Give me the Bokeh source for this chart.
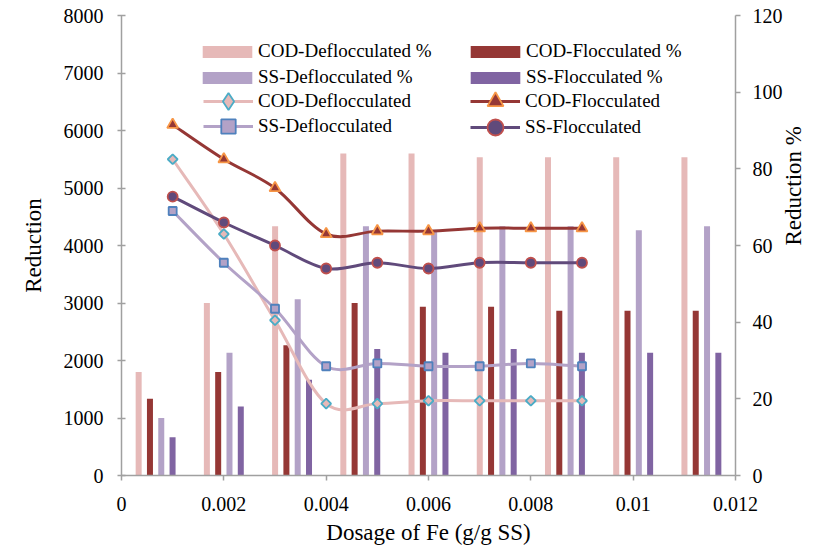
import numpy as np
from bokeh.plotting import figure
from bokeh.models import (Range1d, LinearAxis, FixedTicker, Legend, LegendItem,
                          ColumnDataSource, Title)
from bokeh.embed import file_html
from bokeh.resources import INLINE

# ---------------- data ----------------
dosage = [0.001, 0.002, 0.003, 0.004, 0.005, 0.006, 0.007, 0.008, 0.009]
cod_defloc = [5500, 4200, 2700, 1250, 1250, 1300, 1300, 1300, 1300]
ss_defloc = [4600, 3700, 2900, 1900, 1950, 1900, 1900, 1950, 1900]
cod_floc = [6100, 5500, 5000, 4200, 4250, 4250, 4300, 4300, 4300]
ss_floc = [4850, 4400, 4000, 3600, 3700, 3600, 3700, 3700, 3700]

groups = [1, 2, 3, 4, 5, 6, 7, 8, 9]
cod_defloc_pct = [27, 45, 65, 84, 84, 83, 83, 83, 83]
cod_floc_pct = [20, 27, 34, 45, 44, 44, 43, 43, 43]
ss_defloc_pct = [15, 32, 46, 65, 64, 65, 65, 64, 65]
ss_floc_pct = [10, 18, 25, 33, 32, 33, 32, 32, 32]

x_ticks = [0, 0.002, 0.004, 0.006, 0.008, 0.01, 0.012]
x_tick_labels = ["0", "0.002", "0.004", "0.006", "0.008", "0.01", "0.012"]
left_ticks = [0, 1000, 2000, 3000, 4000, 5000, 6000, 7000, 8000]
right_ticks = [0, 20, 40, 60, 80, 100, 120]

# ---------------- styles ----------------
FONT = "Liberation Serif"
C_COD_DEF = "#E6B9B8"
C_COD_FLOC = "#953735"
C_SS_DEF = "#B3A2C7"
C_SS_FLOC = "#8064A2"
C_SS_FLOC_LINE = "#604A7B"
AXIS_C = "#A0A0A0"

XMAX = 0.012
p = figure(width=821, height=552, output_backend="svg", toolbar_location=None,
           x_range=Range1d(0, XMAX), y_range=Range1d(0, 8000),
           min_border_left=121, min_border_right=86, min_border_top=15,
           min_border_bottom=77)
p.extra_y_ranges = {"pct": Range1d(0, 120), "swatch": Range1d(-2, -1)}
p.outline_line_color = None
p.xgrid.visible = False
p.ygrid.visible = False
p.background_fill_color = "white"
p.border_fill_color = "white"

# ---------------- bars (secondary axis) ----------------
n = len(groups)
cat_w = XMAX / n
centers = (np.array(groups) - 0.5) * cat_w
slot = cat_w * 0.1657
bar_w = cat_w * 0.088
bar_series = [
    ("COD-Deflocculated %", cod_defloc_pct, C_COD_DEF, -1.5),
    ("COD-Flocculated %", cod_floc_pct, C_COD_FLOC, -0.5),
    ("SS-Deflocculated %", ss_defloc_pct, C_SS_DEF, 0.5),
    ("SS-Flocculated %", ss_floc_pct, C_SS_FLOC, 1.5),
]
bar_r = {}
for name, vals, col, off in bar_series:
    src = ColumnDataSource(dict(x=centers + off * slot, top=vals))
    bar_r[name] = p.vbar(x="x", top="top", bottom=0, width=bar_w, source=src,
                         fill_color=col, line_color=None, y_range_name="pct")


# ---------------- smooth lines (primary axis) ----------------
def smooth_source(xs, ys):
    xs = np.asarray(xs, float)
    ys = np.asarray(ys, float)
    px = np.concatenate([[xs[0]], xs, [xs[-1]]])
    py = np.concatenate([[ys[0]], ys, [ys[-1]]])
    x0, y0 = xs[:-1], ys[:-1]
    x1, y1 = xs[1:], ys[1:]
    cx0 = x0 + (px[2:-1] - px[:-3]) / 6
    cy0 = y0 + (py[2:-1] - py[:-3]) / 6
    cx1 = x1 - (px[3:] - px[1:-2]) / 6
    cy1 = y1 - (py[3:] - py[1:-2]) / 6
    return ColumnDataSource(dict(x0=x0, y0=y0, x1=x1, y1=y1,
                                 cx0=cx0, cy0=cy0, cx1=cx1, cy1=cy1))


line_series = [
    ("COD-Deflocculated", cod_defloc, C_COD_DEF, "square", 7, np.pi / 4, C_COD_DEF, "#4BACC6", "diamond"),
    ("SS-Deflocculated", ss_defloc, C_SS_DEF, "square", 8, 0, C_SS_DEF, "#4F81BD", "square"),
    ("COD-Flocculated", cod_floc, C_COD_FLOC, "triangle", 11, 0, C_COD_FLOC, "#F79646", "triangle"),
    ("SS-Flocculated", ss_floc, C_SS_FLOC_LINE, "circle", 10, 0, C_SS_FLOC_LINE, "#C0504D", "circle"),
]
legend_r = {}
for name, vals, lc, marker, size, ang, fc, mc, lmarker in line_series:
    b = p.bezier(x0="x0", y0="y0", x1="x1", y1="y1", cx0="cx0", cy0="cy0",
                 cx1="cx1", cy1="cy1", source=smooth_source(dosage, vals),
                 line_color=lc, line_width=3)
    s = p.scatter(x=dosage, y=vals, marker=marker, size=size, angle=ang,
                  fill_color=fc, line_color=mc, line_width=1.8)
    if lmarker != marker:
        # upright diamond swatch for the legend (its range keeps it out of the frame)
        s = p.scatter(x=dosage, y=vals, marker=lmarker, size=size,
                      fill_color=fc, line_color=mc, line_width=1.8,
                      y_range_name="swatch")
    legend_r[name] = [b, s]

# ---------------- axes ----------------
xa = p.xaxis[0]
xa.ticker = FixedTicker(ticks=x_ticks)
xa.major_label_overrides = {t: l for t, l in zip(x_ticks, x_tick_labels)}
xa.major_tick_in = 0
xa.major_tick_out = 5
xa.major_label_standoff = 16

ya = p.yaxis[0]
ya.ticker = FixedTicker(ticks=left_ticks)
ya.major_tick_in = 4
ya.major_tick_out = 4
ya.major_label_standoff = 14

ra = LinearAxis(y_range_name="pct", ticker=FixedTicker(ticks=right_ticks),
                axis_label="Reduction %")
ra.major_tick_in = 0
ra.major_tick_out = 5
ra.major_label_standoff = 12
ra.axis_label_standoff = 8
if "axis_label_orientation" in LinearAxis.properties():
    ra.axis_label_orientation = np.pi / 2
p.add_layout(ra, "right")

for ax in (xa, ya, ra):
    ax.minor_tick_line_color = None
    ax.axis_line_color = AXIS_C
    ax.axis_line_width = 1.5
    ax.major_tick_line_color = AXIS_C
    ax.major_tick_line_width = 1.5
    ax.major_label_text_font = FONT
    ax.major_label_text_font_size = "20px"
    ax.major_label_text_color = "black"
    ax.axis_label_text_font = FONT
    ax.axis_label_text_font_size = "23px"
    ax.axis_label_text_font_style = "normal"
    ax.axis_label_text_color = "black"

# axis titles (Title annotations keep the serif face)
p.add_layout(Title(text="Reduction", align="center", text_font=FONT,
                   text_font_size="23px", text_font_style="normal",
                   text_color="black", standoff=30), "left")
p.add_layout(Title(text="Dosage of Fe (g/g SS)", align="center", text_font=FONT,
                   text_font_size="23px", text_font_style="normal",
                   text_color="black", standoff=8), "below")


# ---------------- legends ----------------
def make_legend(item, loc, gw, gh, standoff):
    lg = Legend(items=[item], location=loc, glyph_width=gw, glyph_height=gh,
                spacing=0, label_height=20, label_standoff=standoff,
                padding=0, margin=0, border_line_color=None,
                background_fill_alpha=0, label_text_font=FONT,
                label_text_font_size="19px", label_text_color="black")
    p.add_layout(lg)
    return lg


make_legend(LegendItem(label="COD-Deflocculated %", renderers=[bar_r["COD-Deflocculated %"]]),
            (75, 413), 62, 15, 0)
make_legend(LegendItem(label="SS-Deflocculated %", renderers=[bar_r["SS-Deflocculated %"]]),
            (75, 387), 62, 15, 0)
make_legend(LegendItem(label="COD-Flocculated %", renderers=[bar_r["COD-Flocculated %"]]),
            (343, 413), 62, 15, 0)
make_legend(LegendItem(label="SS-Flocculated %", renderers=[bar_r["SS-Flocculated %"]]),
            (343, 387), 62, 15, 0)
make_legend(LegendItem(label="COD-Deflocculated", renderers=legend_r["COD-Deflocculated"]),
            (82, 353), 50, 42, 5)
make_legend(LegendItem(label="SS-Deflocculated", renderers=legend_r["SS-Deflocculated"]),
            (82, 331), 50, 36, 5)
make_legend(LegendItem(label="COD-Flocculated", renderers=legend_r["COD-Flocculated"]),
            (349, 354), 50, 40, 5)
make_legend(LegendItem(label="SS-Flocculated", renderers=legend_r["SS-Flocculated"]),
            (349, 328), 50, 40, 5)

open("out.html", "w").write(file_html(p, INLINE))
